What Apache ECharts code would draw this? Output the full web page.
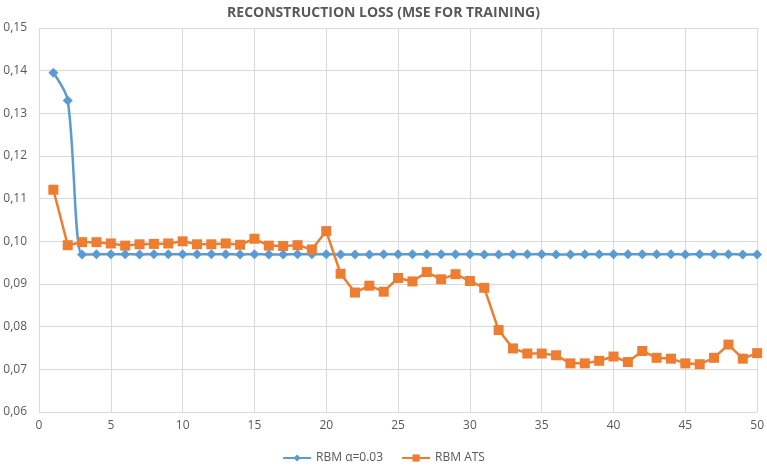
<!DOCTYPE html>
<html>
<head>
<meta charset="utf-8">
<script src="https://cdn.jsdelivr.net/npm/echarts@6/dist/echarts.min.js"></script>
<style>
html,body{margin:0;padding:0;background:#fff}
#main{width:767px;height:470px}
</style>
</head>
<body>
<div id="main"></div>
<script>
// epochs 1..50
var epochs=[];
for(var i=1;i<=50;i++){epochs.push(i)}
var rbmAlpha=[0.1395,0.1330,0.0969,0.0970,0.0970,0.0970,0.0969,0.0970,0.0970,0.0970,
	0.0970,0.0970,0.0970,0.0969,0.0970,0.0969,0.0969,0.0970,0.0970,0.0970,
	0.0969,0.0969,0.0969,0.0970,0.0970,0.0970,0.0970,0.0970,0.0970,0.0970,
	0.0969,0.0969,0.0970,0.0970,0.0970,0.0969,0.0969,0.0970,0.0970,0.0970,
	0.0970,0.0970,0.0970,0.0970,0.0969,0.0970,0.0970,0.0970,0.0969,0.0969];
var rbmAts=[0.1121,0.0991,0.0998,0.0998,0.0995,0.0990,0.0993,0.0994,0.0995,0.1000,
	0.0993,0.0993,0.0995,0.0992,0.1006,0.0990,0.0989,0.0991,0.0981,0.1024,
	0.0924,0.0880,0.0896,0.0882,0.0914,0.0906,0.0928,0.0911,0.0923,0.0907,
	0.0891,0.0792,0.0749,0.0737,0.0737,0.0733,0.0714,0.0714,0.0720,0.0730,
	0.0717,0.0743,0.0727,0.0725,0.0714,0.0712,0.0727,0.0758,0.0725,0.0738];
var seriesNames=['RBM α=0.03','RBM ATS'];

//把数组拼成 [x,y]
function pairs(vals){
	var out=[];
	for(var i=0;i<vals.length;i++){out.push([epochs[i],vals[i]])}
	return out;
}

var myChart=echarts.init(document.getElementById('main'));
var option={
	animation:false,
	title:{
		text:'RECONSTRUCTION LOSS (MSE FOR TRAINING)',
		left:'center',
		top:1,
		textStyle:{color:'#595959',fontSize:14,fontWeight:'bold',fontFamily:'Open Sans'}
	},
	legend:{
		bottom:1,
		left:'center',
		itemWidth:28,
		itemHeight:9,
		itemGap:18,
		textStyle:{color:'#595959',fontSize:12,fontFamily:'Open Sans'},
		data:seriesNames
	},
	grid:{left:39,right:9,top:28,bottom:58,containLabel:false},
	xAxis:{
		type:'value',
		min:0,max:50,interval:5,
		axisLine:{show:false},
		axisTick:{show:false},
		axisLabel:{color:'#595959',fontSize:12,fontFamily:'Open Sans',margin:8},
		splitLine:{show:true,lineStyle:{color:'#d9d9d9',width:1}}
	},
	yAxis:{
		type:'value',
		min:0.06,max:0.15,interval:0.01,
		axisLine:{show:false},
		axisTick:{show:false},
		axisLabel:{color:'#595959',fontSize:12,fontFamily:'Open Sans',margin:12,
			formatter:function(v){return v.toFixed(2).replace('.',',')}},
		splitLine:{show:true,lineStyle:{color:'#d9d9d9',width:1}}
	},
	series:[
		{
			name:seriesNames[0],
			type:'line',
			smooth:0.3,
			symbol:'diamond',
			symbolSize:10,
			itemStyle:{color:'#5b9bd5'},
			lineStyle:{color:'#5b9bd5',width:2.5},
			data:pairs(rbmAlpha)
		},
		{
			name:seriesNames[1],
			type:'line',
			symbol:'rect',
			symbolSize:10,
			itemStyle:{color:'#ed7d31'},
			lineStyle:{color:'#ed7d31',width:2.5},
			data:pairs(rbmAts)
		}
	]
};
myChart.setOption(option);
</script>
</body>
</html>
